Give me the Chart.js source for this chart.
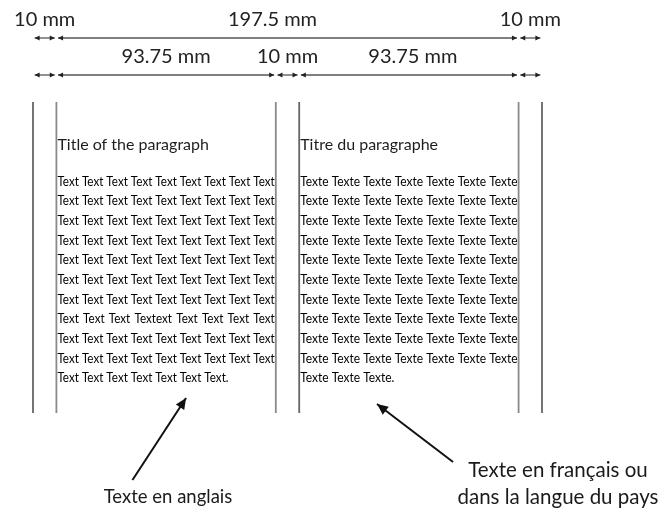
<!DOCTYPE html>
<html>
<head>
<meta charset="utf-8">
<script src="https://cdn.jsdelivr.net/npm/chart.js@4.4.0/dist/chart.umd.min.js"></script>
<style>
    html, body { margin: 0; padding: 0; background: #ffffff; }
    canvas { display: block; }
</style>
</head>
<body>
<canvas id="layoutChart" width="672" height="511"></canvas>
<script>
// page bands, left to right, in mm
const bandWidths = [10, 93.75, 10, 93.75, 10];
const bandLabels = ['', '93.75 mm', '10 mm', '93.75 mm', ''];
const overallLabels = ['10 mm', '197.5 mm', '10 mm'];

const columnTitles = ['Title of the paragraph', 'Titre du paragraphe'];
const englishLines = [
    'Text Text Text Text Text Text Text Text Text',
    'Text Text Text Text Text Text Text Text Text',
    'Text Text Text Text Text Text Text Text Text',
    'Text Text Text Text Text Text Text Text Text',
    'Text Text Text Text Text Text Text Text Text',
    'Text Text Text Text Text Text Text Text Text',
    'Text Text Text Text Text Text Text Text Text',
    'Text Text Text Textext Text Text Text Text',
    'Text Text Text Text Text Text Text Text Text',
    'Text Text Text Text Text Text Text Text Text',
    'Text Text Text Text Text Text Text.'
];
const frenchLines = [
    'Texte Texte Texte Texte Texte Texte Texte',
    'Texte Texte Texte Texte Texte Texte Texte',
    'Texte Texte Texte Texte Texte Texte Texte',
    'Texte Texte Texte Texte Texte Texte Texte',
    'Texte Texte Texte Texte Texte Texte Texte',
    'Texte Texte Texte Texte Texte Texte Texte',
    'Texte Texte Texte Texte Texte Texte Texte',
    'Texte Texte Texte Texte Texte Texte Texte',
    'Texte Texte Texte Texte Texte Texte Texte',
    'Texte Texte Texte Texte Texte Texte Texte',
    'Texte Texte Texte.'
];

const calloutTexts = [['Texte en anglais'], ['Texte en français ou', 'dans la langue du pays']];
// arrow tail / head as [mm, y]
const calloutTails = [[42.5, 480], [179.5, 462]];
const calloutHeads = [[65.4, 398], [147.0, 404]];

// cumulative band edges
const edges = bandWidths.reduce((acc, w) => acc.concat(acc[acc.length - 1] + w), [0]);
const overallSpans = [[edges[0], edges[1]], [edges[1], edges[4]], [edges[4], edges[5]]];
const bandSpans = bandWidths.map((w, i) => [edges[i], edges[i + 1]]);

const ROW1_Y = 38, ROW2_Y = 75;
const GUIDE_TOP = 102, GUIDE_BOTTOM = 413;
const GAP = 0.7;

const datasets = [];

function addDimension(span, y) {
    datasets.push({
        data: [{x: span[0] + GAP, y: y}, {x: span[1] - GAP, y: y}],
        borderColor: '#555555',
        borderWidth: 1.3,
        pointRadius: 0,
        showLine: true,
        dimArrows: true
    });
}
overallSpans.forEach(s => addDimension(s, ROW1_Y));
bandSpans.forEach(s => addDimension(s, ROW2_Y));

edges.forEach((e, i) => {
    datasets.push({
        data: [{x: e, y: GUIDE_TOP}, {x: e, y: GUIDE_BOTTOM}],
        borderColor: (i === 0 || i === 3 || i === 5) ? '#666666' : '#8a8a8a',
        borderWidth: 1.8,
        pointRadius: 0,
        showLine: true
    });
});

calloutTails.forEach((t, i) => {
    datasets.push({
        data: [{x: t[0], y: t[1]}, {x: calloutHeads[i][0], y: calloutHeads[i][1]}],
        borderColor: '#111111',
        borderWidth: 2,
        pointRadius: 0,
        showLine: true,
        calloutArrow: true
    });
});

function arrowHead(ctx, from, to, len, half) {
    const ang = Math.atan2(to.y - from.y, to.x - from.x);
    ctx.save();
    ctx.translate(to.x, to.y);
    ctx.rotate(ang);
    ctx.beginPath();
    ctx.moveTo(0, 0);
    ctx.lineTo(-len, -half);
    ctx.lineTo(-len, half);
    ctx.closePath();
    ctx.fill();
    ctx.restore();
}

const arrowPlugin = {
    id: 'arrows',
    afterDatasetsDraw(chart) {
        const ctx = chart.ctx;
        chart.data.datasets.forEach((ds, i) => {
            const pts = chart.getDatasetMeta(i).data;
            if (ds.dimArrows) {
                ctx.fillStyle = '#222222';
                arrowHead(ctx, pts[1], pts[0], 5, 2.6);
                arrowHead(ctx, pts[0], pts[1], 5, 2.6);
            }
            if (ds.calloutArrow) {
                ctx.fillStyle = '#111111';
                arrowHead(ctx, pts[0], pts[1], 11, 5);
            }
        });
    }
};

// justified body: every line but the last is stretched to the column width
function drawColumn(ctx, x0, x1, title, lines) {
    ctx.fillStyle = '#1e1e1e';
    ctx.textAlign = 'left';
    ctx.textBaseline = 'middle';
    ctx.font = '16px Lato';
    ctx.fillText(title, x0, 145);

    ctx.font = '13px Lato';
    ctx.fillStyle = '#000000';
    const width = x1 - x0;
    const baseScale = width / ctx.measureText(lines[0]).width;
    lines.forEach((line, i) => {
        const y = 181.5 + i * 19.65;
        const last = i === lines.length - 1;
        ctx.save();
        ctx.translate(x0, y);
        if (last) {
            ctx.scale(baseScale, 1);
            ctx.fillText(line, 0, 0);
        } else {
            const words = line.split(' ');
            const wordW = words.map(w => ctx.measureText(w).width * baseScale);
            const total = wordW.reduce((a, b) => a + b, 0);
            const space = (width - total) / (words.length - 1);
            let x = 0;
            words.forEach((w, k) => {
                ctx.save();
                ctx.translate(x, 0);
                ctx.scale(baseScale, 1);
                ctx.fillText(w, 0, 0);
                ctx.restore();
                x += wordW[k] + space;
            });
        }
        ctx.restore();
    });
}

const textPlugin = {
    id: 'texts',
    afterDraw(chart) {
        const ctx = chart.ctx;
        const xs = chart.scales.x;
        const mid = s => (xs.getPixelForValue(s[0]) + xs.getPixelForValue(s[1])) / 2;
        ctx.save();
        ctx.fillStyle = '#222222';
        ctx.textAlign = 'center';
        ctx.textBaseline = 'middle';
        ctx.font = '20px Lato';
        overallSpans.forEach((s, i) => {
            const shift = i === 1 ? -15 : 0;
            ctx.fillText(overallLabels[i], mid(s) + shift, 20);
        });
        bandSpans.forEach((s, i) => {
            if (!bandLabels[i]) return;
            const shift = i === 3 ? 4 : 0;
            ctx.fillText(bandLabels[i], mid(s) + shift, 57);
        });

        drawColumn(ctx, xs.getPixelForValue(edges[1]) + 1, xs.getPixelForValue(edges[2]) - 1,
            columnTitles[0], englishLines);
        drawColumn(ctx, xs.getPixelForValue(edges[3]) + 1, xs.getPixelForValue(edges[4]) - 1,
            columnTitles[1], frenchLines);

        ctx.fillStyle = '#1a1a1a';
        ctx.textAlign = 'center';
        ctx.textBaseline = 'middle';
        ctx.font = '18.5px Lato';
        ctx.fillText(calloutTexts[0][0], 168, 497);
        ctx.font = '20.5px Lato';
        ctx.fillText(calloutTexts[1][0], 558, 470);
        ctx.fillText(calloutTexts[1][1], 558, 497);
        ctx.restore();
    }
};

new Chart(document.getElementById('layoutChart').getContext('2d'), {
    type: 'scatter',
    data: { datasets: datasets },
    options: {
        responsive: false,
        animation: false,
        layout: { padding: 0 },
        plugins: {
            legend: { display: false },
            tooltip: { enabled: false }
        },
        scales: {
            x: { type: 'linear', display: false, min: -14.101, max: 273.05 },
            y: { type: 'linear', display: false, min: 0, max: 511, reverse: true }
        }
    },
    plugins: [arrowPlugin, textPlugin]
});
</script>
</body>
</html>
